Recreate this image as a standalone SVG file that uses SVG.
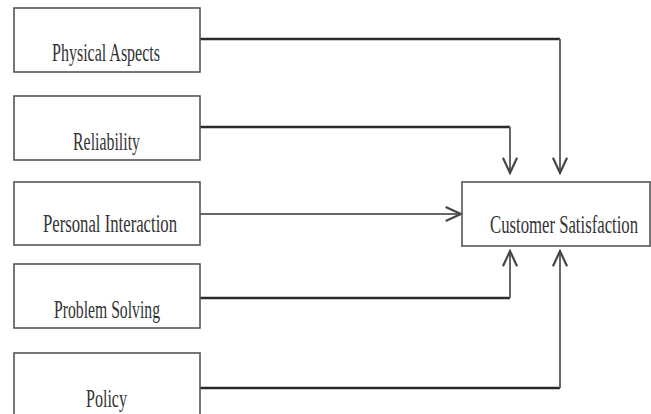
<svg xmlns="http://www.w3.org/2000/svg" width="651" height="414" viewBox="0 0 651 414">
<style>
.box{fill:#fff;stroke:#555;stroke-width:1.6}
.lbl{font-family:"Liberation Serif","Times New Roman",serif;font-size:25px;fill:#333}
.h{fill:none;stroke:#2a2a2a;stroke-width:2.6}
.v{fill:none;stroke:#666;stroke-width:2}
</style>
<defs>
<marker id="arr" markerUnits="userSpaceOnUse" markerWidth="20" markerHeight="20" viewBox="-15 -8 17 16" refX="0" refY="0" orient="auto">
<path d="M-13,-6 L0,0 L-13,6" fill="none" stroke="#444" stroke-width="1.8"/>
</marker>
</defs>
<rect width="651" height="414" fill="#fff"/>
<g id="connectors">
<path class="h" d="M200,39 H560"/>
<path class="v" d="M560,39 V173" marker-end="url(#arr)"/>
<path class="h" d="M200,127 H510"/>
<path class="v" d="M510,127 V173" marker-end="url(#arr)"/>
<path class="v" d="M200,214 H461" marker-end="url(#arr)"/>
<path class="h" d="M200,298 H510"/>
<path class="v" d="M510,298 V251" marker-end="url(#arr)"/>
<path class="h" d="M200,388 H560"/>
<path class="v" d="M560,388 V251" marker-end="url(#arr)"/>
</g>
<g id="physical">
<rect class="box" x="14" y="8" width="186" height="64"/>
<text class="lbl" x="52" y="61" textLength="108" lengthAdjust="spacingAndGlyphs">Physical Aspects</text>
</g>
<g id="reliability">
<rect class="box" x="14" y="96" width="186" height="64"/>
<text class="lbl" x="73" y="150" textLength="67" lengthAdjust="spacingAndGlyphs">Reliability</text>
</g>
<g id="personal">
<rect class="box" x="14" y="182" width="186" height="63"/>
<text class="lbl" x="43" y="232" textLength="134" lengthAdjust="spacingAndGlyphs">Personal Interaction</text>
</g>
<g id="problem">
<rect class="box" x="14" y="264" width="186" height="64"/>
<text class="lbl" x="54" y="318" textLength="106" lengthAdjust="spacingAndGlyphs">Problem Solving</text>
</g>
<g id="policy">
<rect class="box" x="14" y="353" width="186" height="70"/>
<text class="lbl" x="86" y="407" textLength="41" lengthAdjust="spacingAndGlyphs">Policy</text>
</g>
<g id="customer">
<rect class="box" x="462" y="182" width="188" height="64"/>
<text class="lbl" transform="translate(490,233) scale(0.67,1)" x="0" y="0" textLength="221" lengthAdjust="spacingAndGlyphs">Customer Satisfaction</text>
</g>
</svg>
